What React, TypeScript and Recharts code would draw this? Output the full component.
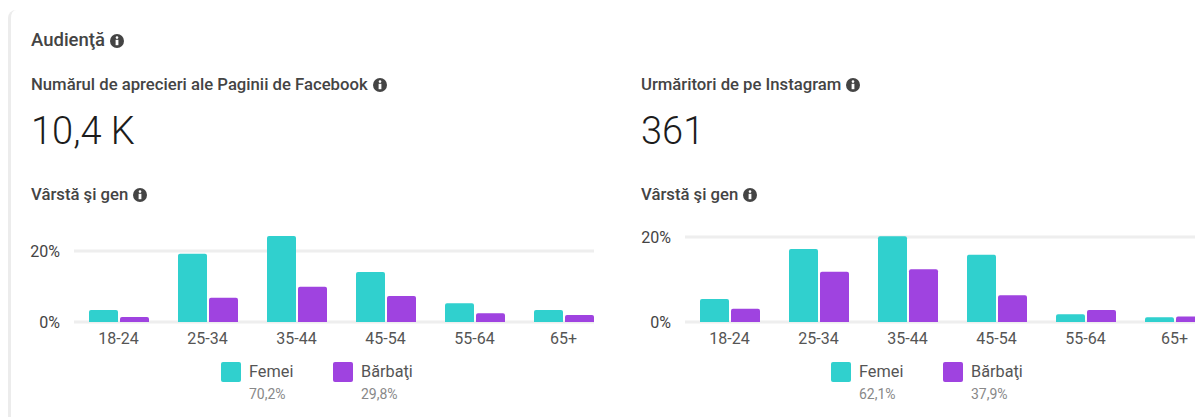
import React from 'react';
import { BarChart, Bar, XAxis, YAxis, CartesianGrid, Legend } from 'recharts';

const ageGroups = ['18-24', '25-34', '35-44', '45-54', '55-64', '65+'];
const facebookWomen = [3.4, 19.2, 24.2, 14.1, 5.3, 3.4];
const facebookMen = [1.4, 6.8, 9.9, 7.3, 2.5, 2.0];
const instagramWomen = [5.4, 17.2, 20.2, 15.8, 1.8, 1.1];
const instagramMen = [3.1, 11.8, 12.4, 6.3, 2.8, 1.3];
const facebookShares = ['70,2%', '29,8%'];
const instagramShares = ['62,1%', '37,9%'];
const yTicks = [0, 20];

const TEAL = '#30d0ce';
const PURPLE = '#9f43e0';
const FONT = 'Roboto, sans-serif';

const toRows = (women: number[], men: number[]) =>
  ageGroups.map((age, i) => ({ age, women: women[i], men: men[i] }));

const InfoIcon = ({ size = 14 }: { size?: number }) => (
  <svg width={size} height={size} viewBox="0 0 14 14" style={{ marginLeft: 5, verticalAlign: -2 }}>
    <circle cx="7" cy="7" r="7" fill="#444" />
    <circle cx="7" cy="3.6" r="1.3" fill="#fff" />
    <rect x="5.6" y="5.8" width="2.8" height="5.4" fill="#fff" />
  </svg>
);

const Label = ({ x, y, size, weight, color, children }: any) => (
  <div
    style={{
      position: 'absolute',
      left: x,
      top: y,
      fontSize: size,
      fontWeight: weight,
      color,
      lineHeight: '20px',
      whiteSpace: 'nowrap',
    }}
  >
    {children}
  </div>
);

const LegendItem = ({ x, color, name, share }: any) => (
  <div style={{ position: 'absolute', left: x, top: 0 }}>
    <div style={{ position: 'absolute', left: 0, top: 0, width: 20, height: 20, borderRadius: 2, background: color }} />
    <div style={{ position: 'absolute', left: 28, top: 1, fontSize: 16.3, lineHeight: '18px', color: '#555', whiteSpace: 'nowrap' }}>{name}</div>
    <div style={{ position: 'absolute', left: 28, top: 24, fontSize: 14, lineHeight: '16px', color: '#888' }}>{share}</div>
  </div>
);

// the chart runs wider than its box: the last band is cut right after the bars, as in the original
const AgeGenderChart = ({ left, top, clipWidth, width, women, men, shares, axisWidth, plotTop, domainMax, legendX }: any) => (
  <div style={{ position: 'absolute', left, top, width: clipWidth, height: 217, overflow: 'hidden' }}>
    <BarChart
      width={width}
      height={217}
      data={toRows(women, men)}
      margin={{ top: plotTop, right: 0, bottom: 65, left: 0 }}
      barSize={29}
      barGap={2}
    >
      <CartesianGrid vertical={false} syncWithTicks stroke="#eeeeee" strokeWidth={3} />
      <XAxis
        dataKey="age"
        height={30}
        axisLine={false}
        tickLine={false}
        tickMargin={5}
        interval={0}
        tick={{ fontSize: 16, fill: '#555' }}
      />
      <YAxis
        width={axisWidth}
        domain={[0, domainMax]}
        ticks={yTicks}
        axisLine={false}
        tickLine={false}
        tickMargin={8}
        tickFormatter={(v: number) => `${v}%`}
        tick={{ fontSize: 16, fill: '#444' }}
      />
      <Legend
        wrapperStyle={{ left: 0, top: 162, width, height: 0 }}
        content={() => (
          <div style={{ position: 'relative', fontFamily: FONT }}>
            <LegendItem x={legendX[0]} color={TEAL} name="Femei" share={shares[0]} />
            <LegendItem x={legendX[1]} color={PURPLE} name="Bărbaţi" share={shares[1]} />
          </div>
        )}
      />
      <Bar dataKey="women" name="Femei" fill={TEAL} radius={[2, 2, 0, 0]} isAnimationActive={false} />
      <Bar dataKey="men" name="Bărbaţi" fill={PURPLE} radius={[2, 2, 0, 0]} isAnimationActive={false} />
    </BarChart>
  </div>
);

export default function App() {
  return (
    <div
      style={{
        position: 'fixed',
        left: 0,
        top: 0,
        width: 1195,
        height: 417,
        overflow: 'hidden',
        background: '#fff',
        fontFamily: FONT,
      }}
    >
      <div
        style={{
          position: 'absolute',
          left: 8,
          top: 10,
          width: 8,
          height: 420,
          borderLeft: '3px solid #ececec',
          borderTopLeftRadius: 8,
          boxSizing: 'border-box',
        }}
      />

      <Label x={31} y={30} size={18.5} weight={500} color="#444">Audienţă<InfoIcon /></Label>
      <Label x={31} y={75} size={16.7} weight={500} color="#444">Numărul de aprecieri ale Paginii de Facebook<InfoIcon /></Label>
      <Label x={641} y={75} size={16.7} weight={500} color="#444">Urmăritori de pe Instagram<InfoIcon /></Label>
      <Label x={31} y={121} size={38} weight={300} color="#1c1c1c">10,4 K</Label>
      <Label x={641} y={121} size={38} weight={300} color="#1c1c1c">361</Label>
      <Label x={31} y={185} size={16.7} weight={500} color="#444">Vârstă şi gen<InfoIcon /></Label>
      <Label x={641} y={185} size={16.7} weight={500} color="#444">Vârstă şi gen<InfoIcon /></Label>

      <AgeGenderChart
        left={0}
        top={200}
        clipWidth={594}
        width={608}
        women={facebookWomen}
        men={facebookMen}
        shares={facebookShares}
        axisWidth={74}
        plotTop={22.6}
        domainMax={28}
        legendX={[221, 333]}
      />
      <AgeGenderChart
        left={610}
        top={200}
        clipWidth={585}
        width={609}
        women={instagramWomen}
        men={instagramMen}
        shares={instagramShares}
        axisWidth={75}
        plotTop={20}
        domainMax={24}
        legendX={[221, 333]}
      />
    </div>
  );
}
